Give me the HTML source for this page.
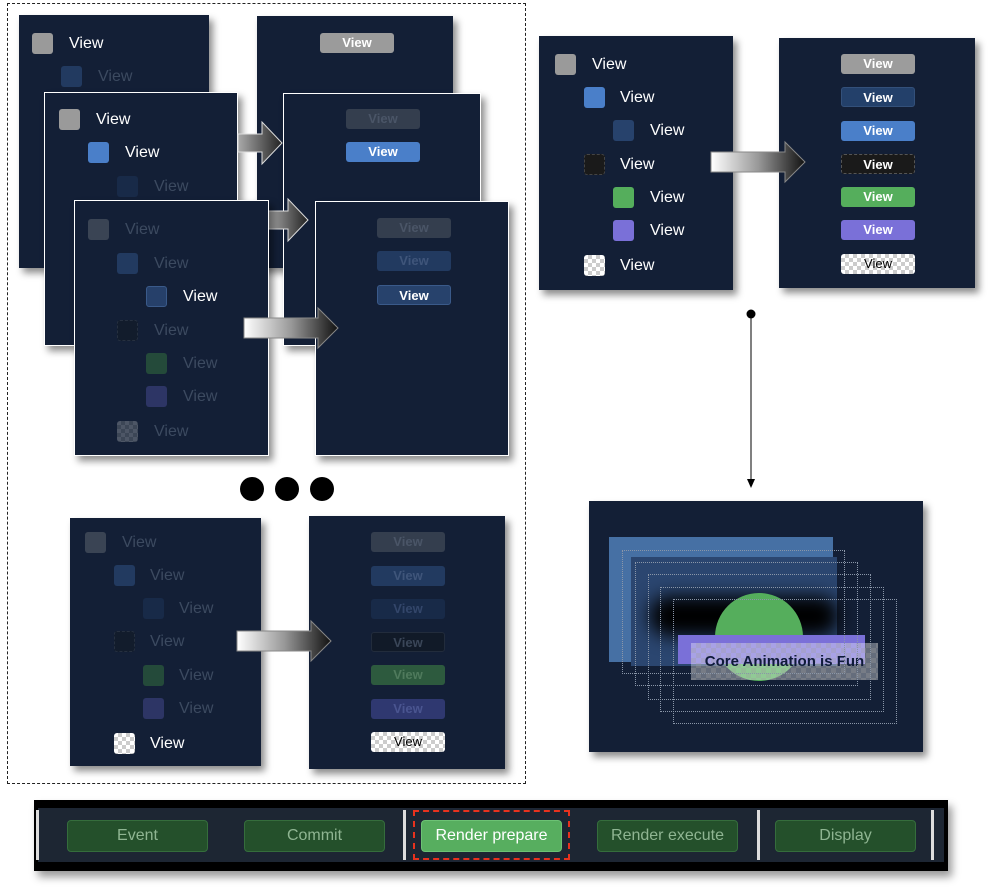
<!DOCTYPE html>
<html><head><meta charset="utf-8"><style>
body{margin:0;width:1000px;height:891px;background:#fff;position:relative;overflow:hidden;font-family:"Liberation Sans",sans-serif}
div{position:absolute;box-sizing:border-box}
.p{background:#131f36;box-shadow:4px 5px 7px rgba(0,0,0,.45)}
.f{border:1.5px solid #fff}
.ic{width:21px;height:21px;border-radius:3px}
.t{font-size:16px;color:#fff;line-height:18px;white-space:nowrap;margin-top:1px}
.d{color:#3c4a60}
.b{width:74px;height:20px;border-radius:3px;font-size:13px;font-weight:bold;color:#fff;text-align:center;line-height:20px}
.ck{background:repeating-conic-gradient(#ccc 0 25%,#fff 0 50%) 0 0/8px 8px}
.ckd{background:repeating-conic-gradient(#3c4656 0 25%,#4d5666 0 50%) 0 0/8px 8px}
.g{height:32px;width:141px;top:820px;border-radius:4px;background:#24502b;border:1px solid #356d3c;color:#8fb592;font-size:16px;text-align:center;line-height:30px}
.sep{width:3px;background:#ddd;top:810px;height:50px}
.dot{width:24px;height:24px;border-radius:50%;background:#000;top:477px}
</style></head><body>
<svg width="0" height="0" style="position:absolute"><defs>
<linearGradient id="ag" x1="0" x2="1" y1="0" y2="0"><stop offset="0" stop-color="#fff"/><stop offset=".5" stop-color="#999"/><stop offset="1" stop-color="#111"/></linearGradient>
<linearGradient id="ag2" x1="0" x2="1"><stop offset="0" stop-color="#aaa"/><stop offset="1" stop-color="#222"/></linearGradient>
</defs></svg>

<div style="left:7px;top:3px;width:519px;height:781px;border:1.5px dashed #222"></div>

<!-- A -->
<div class="p" style="left:19px;top:15px;width:190px;height:253px"></div>
<div class="ic" style="left:32px;top:33px;background:#9a9a9a"></div><div class="t" style="left:69px;top:34px">View</div>
<div class="ic" style="left:61px;top:66px;background:#223a60"></div><div class="t d" style="left:98px;top:67px">View</div>
<div class="p" style="left:257px;top:16px;width:196px;height:252px"></div>
<div class="b" style="left:320px;top:33px;background:#9b9b9b">View</div>

<!-- B -->
<div class="p f" style="left:44px;top:92px;width:194px;height:254px"></div>
<div class="ic" style="left:59px;top:109px;background:#9a9a9a"></div><div class="t" style="left:96px;top:110px">View</div>
<div class="ic" style="left:88px;top:142px;background:#4a7fc9"></div><div class="t" style="left:125px;top:143px">View</div>
<div class="ic" style="left:117px;top:176px;background:#182a48"></div><div class="t d" style="left:154px;top:177px">View</div>
<div class="p f" style="left:283px;top:93px;width:198px;height:253px"></div>
<div class="b" style="left:346px;top:109px;background:#343e4e;color:#4a5567">View</div>
<div class="b" style="left:346px;top:142px;background:#4a7fc9">View</div>

<svg style="position:absolute;left:236px;top:120px" width="50" height="46"><path d="M2 14H26V2L46 23L26 44V32H2Z" fill="url(#ag2)" stroke="#ddd"/></svg>
<svg style="position:absolute;left:266px;top:197px" width="46" height="46"><path d="M2 14H22V2L42 23L22 44V32H2Z" fill="url(#ag2)" stroke="#ddd"/></svg>

<!-- C -->
<div class="p f" style="left:74px;top:200px;width:195px;height:256px"></div>
<div class="ic" style="left:88px;top:219px;background:#3a4454"></div><div class="t d" style="left:125px;top:220px">View</div>
<div class="ic" style="left:117px;top:253px;background:#223a60"></div><div class="t d" style="left:154px;top:254px">View</div>
<div class="ic" style="left:146px;top:286px;background:#26406a;border:1px solid #3a5a8a"></div><div class="t" style="left:183px;top:287px">View</div>
<div class="ic" style="left:117px;top:320px;background:#121c2c;border:1px dashed #263040"></div><div class="t d" style="left:154px;top:321px">View</div>
<div class="ic" style="left:146px;top:353px;background:#244a3a"></div><div class="t d" style="left:183px;top:354px">View</div>
<div class="ic" style="left:146px;top:386px;background:#2d3565"></div><div class="t d" style="left:183px;top:387px">View</div>
<div class="ic ckd" style="left:117px;top:421px"></div><div class="t d" style="left:154px;top:422px">View</div>
<div class="p f" style="left:315px;top:201px;width:194px;height:255px"></div>
<div class="b" style="left:377px;top:218px;background:#343e4e;color:#4a5567">View</div>
<div class="b" style="left:377px;top:251px;background:#223a60;color:#3f557a">View</div>
<div class="b" style="left:377px;top:285px;background:#27426c;border:1px solid #3a5a8a">View</div>
<svg style="position:absolute;left:242px;top:306px" width="100" height="46"><path d="M2 12H76V2L96 22L76 42V32H2Z" fill="url(#ag)" stroke="#888"/></svg>

<div class="dot" style="left:240px"></div><div class="dot" style="left:275px"></div><div class="dot" style="left:310px"></div>

<!-- D -->
<div class="p" style="left:70px;top:518px;width:191px;height:248px"></div>
<div class="ic" style="left:85px;top:532px;background:#3a4454"></div><div class="t d" style="left:122px;top:533px">View</div>
<div class="ic" style="left:114px;top:565px;background:#223a60"></div><div class="t d" style="left:150px;top:566px">View</div>
<div class="ic" style="left:143px;top:598px;background:#182a48"></div><div class="t d" style="left:179px;top:599px">View</div>
<div class="ic" style="left:114px;top:631px;background:#121c2c;border:1px dashed #263040"></div><div class="t d" style="left:150px;top:632px">View</div>
<div class="ic" style="left:143px;top:665px;background:#244a3a"></div><div class="t d" style="left:179px;top:666px">View</div>
<div class="ic" style="left:143px;top:698px;background:#2d3565"></div><div class="t d" style="left:179px;top:699px">View</div>
<div class="ic ck" style="left:114px;top:733px"></div><div class="t" style="left:150px;top:734px">View</div>
<div class="p" style="left:309px;top:516px;width:196px;height:253px"></div>
<div class="b" style="left:371px;top:532px;background:#343e4e;color:#4a5567">View</div>
<div class="b" style="left:371px;top:566px;background:#223a60;color:#3f557a">View</div>
<div class="b" style="left:371px;top:599px;background:#182a48;color:#33466a">View</div>
<div class="b" style="left:371px;top:632px;background:#111a28;border:1px solid #222c3c;color:#3a4658">View</div>
<div class="b" style="left:371px;top:665px;background:#2d5a3e;color:#4f7a5c">View</div>
<div class="b" style="left:371px;top:699px;background:#2f3870;color:#4a5590">View</div>
<div class="b ck" style="left:371px;top:732px;color:#000;font-weight:normal">View</div>
<svg style="position:absolute;left:235px;top:619px" width="100" height="46"><path d="M2 12H76V2L96 22L76 42V32H2Z" fill="url(#ag)" stroke="#888"/></svg>

<!-- E -->
<div class="p" style="left:539px;top:36px;width:194px;height:254px"></div>
<div class="ic" style="left:555px;top:54px;background:#9a9a9a"></div><div class="t" style="left:592px;top:55px">View</div>
<div class="ic" style="left:584px;top:87px;background:#4a7fc9"></div><div class="t" style="left:620px;top:88px">View</div>
<div class="ic" style="left:613px;top:120px;background:#27426c"></div><div class="t" style="left:650px;top:121px">View</div>
<div class="ic" style="left:584px;top:154px;background:#1a1a1a;border:1px dashed #444"></div><div class="t" style="left:620px;top:155px">View</div>
<div class="ic" style="left:613px;top:187px;background:#55ae5c"></div><div class="t" style="left:650px;top:188px">View</div>
<div class="ic" style="left:613px;top:220px;background:#7a70d8"></div><div class="t" style="left:650px;top:221px">View</div>
<div class="ic ck" style="left:584px;top:255px"></div><div class="t" style="left:620px;top:256px">View</div>
<div class="p" style="left:779px;top:38px;width:196px;height:250px"></div>
<div class="b" style="left:841px;top:54px;background:#9c9c9c">View</div>
<div class="b" style="left:841px;top:87px;background:#23406a;border:1px solid #33507a">View</div>
<div class="b" style="left:841px;top:121px;background:#4a7fc9">View</div>
<div class="b" style="left:841px;top:154px;background:#1a1a1a;border:1px dashed #555">View</div>
<div class="b" style="left:841px;top:187px;background:#55ae5c">View</div>
<div class="b" style="left:841px;top:220px;background:#7a70d8">View</div>
<div class="b ck" style="left:841px;top:254px;color:#000;font-weight:normal">View</div>
<svg style="position:absolute;left:709px;top:140px" width="100" height="46"><path d="M2 12H76V2L96 22L76 42V32H2Z" fill="url(#ag)" stroke="#888"/></svg>

<!-- connector -->
<svg style="position:absolute;left:740px;top:305px" width="22" height="186"><circle cx="11" cy="9" r="4.5" fill="#000"/><line x1="11" y1="9" x2="11" y2="176" stroke="#000" stroke-width="1"/><path d="M7 174L11 183L15 174Z" fill="#000"/></svg>

<!-- F -->
<div class="p" style="left:589px;top:501px;width:334px;height:251px;overflow:hidden">
 <div style="left:20px;top:36px;width:224px;height:125px;background:#4670a4"></div>
 <div style="left:42px;top:56px;width:206px;height:109px;background:#2b4670"></div>
 <div style="left:60px;top:95px;width:190px;height:40px;background:#000;filter:blur(9px);border-radius:20px"></div>
 <div style="left:126px;top:92px;width:88px;height:88px;border-radius:50%;background:#55ae5c"></div>
 <div style="left:89px;top:134px;width:187px;height:29px;background:#7a70d8"></div>
 <div style="left:102px;top:142px;width:187px;height:37px;background:repeating-conic-gradient(rgba(200,200,200,.55) 0 25%,rgba(255,255,255,.35) 0 50%) 0 0/10px 10px;color:#0f1a3a;font-weight:bold;font-size:15px;text-align:center;line-height:37px;white-space:nowrap">Core Animation is Fun</div>
 <div style="left:33px;top:49px;width:223px;height:124px;border:1px dotted #8a96a8"></div>
 <div style="left:46px;top:61px;width:223px;height:124px;border:1px dotted #8a96a8"></div>
 <div style="left:59px;top:73px;width:223px;height:126px;border:1px dotted #8a96a8"></div>
 <div style="left:71px;top:86px;width:224px;height:125px;border:1px dotted #8a96a8"></div>
 <div style="left:84px;top:98px;width:224px;height:125px;border:1px dotted #8a96a8"></div>
</div>

<!-- bottom bar -->
<div style="left:34px;top:800px;width:914px;height:71px;background:#000;box-shadow:4px 6px 8px rgba(0,0,0,.4)"></div>
<div style="left:38px;top:808px;width:906px;height:54px;background:#1d2633"></div>
<div class="sep" style="left:36px"></div><div class="sep" style="left:403px"></div><div class="sep" style="left:757px"></div><div class="sep" style="left:931px"></div>
<div class="g" style="left:67px">Event</div>
<div class="g" style="left:244px">Commit</div>
<div class="g" style="left:421px;background:#57ae5f;border-color:#6cc274;color:#fff">Render prepare</div>
<div class="g" style="left:597px">Render execute</div>
<div class="g" style="left:775px">Display</div>
<div style="left:413px;top:810px;width:157px;height:50px;border:2px dashed #e8321e"></div>
</body></html>
